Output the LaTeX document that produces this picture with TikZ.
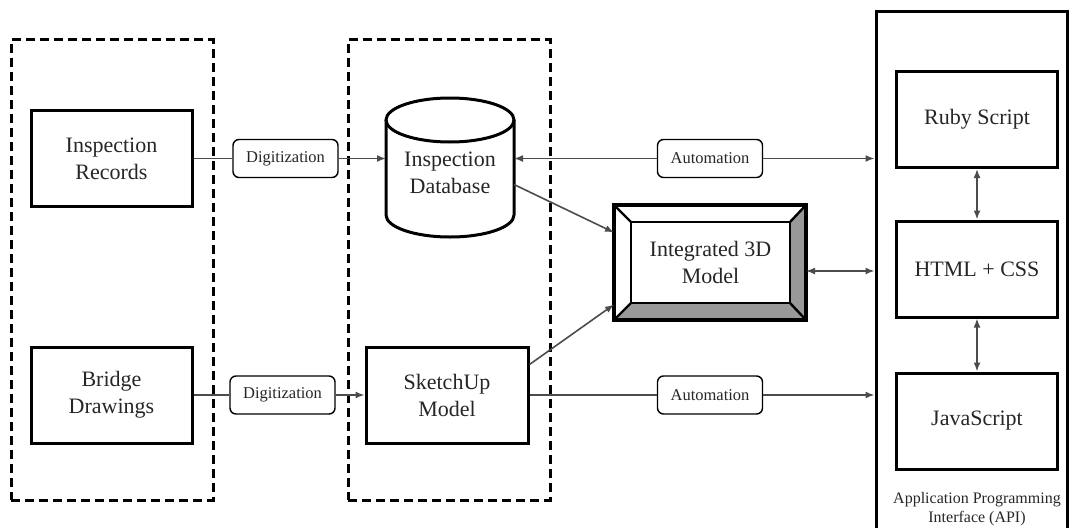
\documentclass[tikz,border=0pt]{standalone}
\usepackage{fontspec}
\setmainfont{Liberation Serif}
\usetikzlibrary{arrows.meta}
\begin{document}
\begin{tikzpicture}[x=1pt,y=-1pt,
  box/.style={draw, line width=3pt, minimum width=161pt, minimum height=96pt, align=center,
    font=\fontsize{22}{27}\selectfont, inner sep=0pt, text=black!85},
  tag/.style={draw, line width=1.4pt, rounded corners=6pt, minimum width=105pt, minimum height=38pt,
    font=\fontsize{16.5}{18}\selectfont, inner sep=0pt, text=black!85},
  group/.style={draw, line width=3pt, dash pattern=on 9pt off 5pt, inner sep=0pt, outer sep=0pt},
  conn/.style={line width=1.6pt, draw=black!70},
  arr/.style={conn, -{Latex[length=9pt,width=7pt]}},
  darr/.style={conn, {Latex[length=9pt,width=7pt]}-{Latex[length=9pt,width=7pt]}},
  shell/.style={inner sep=0pt, outer sep=0pt},
]
\useasboundingbox (0,0) rectangle (1070,527);

% groups
\node[group, minimum width=202pt, minimum height=460pt] (g1) at (112,270) {};
\node[group, minimum width=202pt, minimum height=460pt] (g2) at (449,270) {};

% left column
\node[box] (rec) at (111.5,158.5) {Inspection\\Records};
\node[box] (brd) at (111.5,395) {Bridge\\Drawings};

% labels
\node[tag, fill=white] (dig1) at (285.5,158.5) {Digitization};
\node[tag, fill=white] (dig2) at (282.5,395) {Digitization};
\node[tag, fill=white] (aut1) at (710,158.5) {Automation};
\node[tag, fill=white] (aut2) at (710,395) {Automation};

% database cylinder
\node[shell, minimum width=128pt, minimum height=139pt, align=center,
  font=\fontsize{22}{27}\selectfont, text=black!85] (db) at (450,167.5) {\\[-2pt]Inspection\\Database};
\draw[line width=3pt] ([yshift=-22pt]db.north west) -- ([yshift=22pt]db.south west)
  arc[start angle=180, end angle=360, x radius=64pt, y radius=22pt]
  -- ([yshift=-22pt]db.north east);
\draw[line width=3pt] ([yshift=-22pt]db.north) ellipse [x radius=64pt, y radius=22pt];

% sketchup
\node[box, minimum width=162pt] (sk) at (447,395) {SketchUp\\Model};

% integrated 3D model
\node[shell, minimum width=192pt, minimum height=115pt] (int) at (710,262.5) {};
\node[shell, minimum width=159pt, minimum height=81pt, align=center,
  font=\fontsize{22}{27}\selectfont, text=black!85] (intin) at (710.5,262.5) {Integrated 3D\\Model};
\fill[black!40] (int.north east) -- (int.south east) -- (intin.south east) -- (intin.north east) -- cycle;
\fill[black!40] (int.south west) -- (int.south east) -- (intin.south east) -- (intin.south west) -- cycle;
\draw[line width=2.4pt] (int.north west) -- (intin.north west)
  (int.north east) -- (intin.north east)
  (int.south west) -- (intin.south west)
  (int.south east) -- (intin.south east);
\draw[line width=2.6pt] (intin.north west) rectangle (intin.south east);
\draw[line width=3.4pt] (int.north west) rectangle (int.south east);

% API
\node[draw, line width=3pt, minimum width=191pt, minimum height=528pt, inner sep=0pt] (api) at (971.5,276) {};
\node[box] (ruby) at (977,119.5) {Ruby Script};
\node[box] (html) at (977,269) {HTML + CSS};
\node[box] (js) at (977,421) {JavaScript};
\node[font=\fontsize{16}{19.5}\selectfont, align=center, text=black!85, inner sep=0pt] (apil) at (977,509) {Application Programming\\Interface (API)};

% connectors
\draw[conn] (rec.east) -- (dig1.west);
\draw[arr] (dig1.east) -- (db.west |- dig1.east);
\draw[arr] (aut1.west) -- (db.east |- aut1.west);
\draw[arr] (aut1.east) -- (api.west |- aut1.east);
\draw[conn] (brd.east) -- (dig2.west);
\draw[arr] (dig2.east) -- (sk.west);
\draw[conn] (sk.east) -- (aut2.west);
\draw[arr] (aut2.east) -- (api.west |- aut2.east);
\draw[arr] ([yshift=-17pt]db.east) -- ([yshift=30pt]int.west);
\draw[arr] ([yshift=-19pt]sk.north east) -- ([yshift=-42pt]int.west);
\draw[darr] ([yshift=-2pt]int.east |- html.west) -- ([yshift=-2pt]api.west |- html.west);
\draw[darr] (ruby.south) -- (html.north);
\draw[darr] (html.south) -- (js.north);
\end{tikzpicture}
\end{document}
